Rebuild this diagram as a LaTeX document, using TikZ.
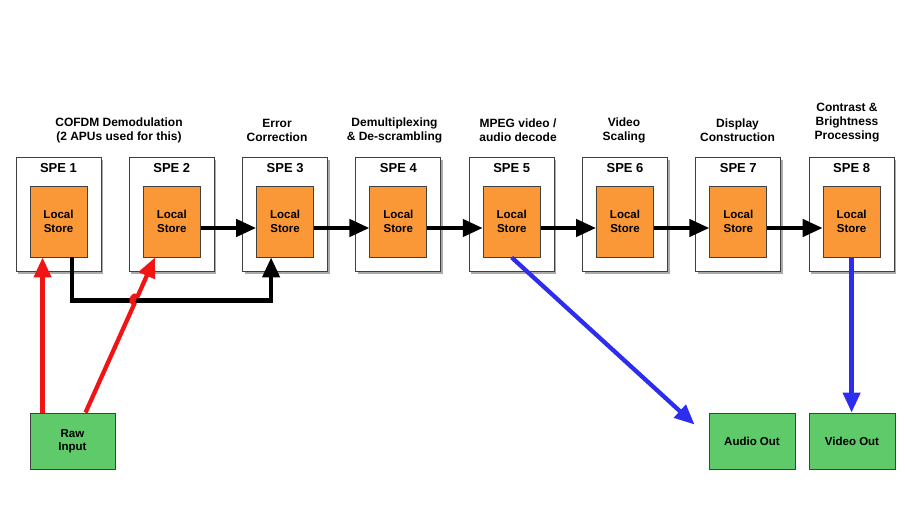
\documentclass[tikz,border=0pt]{standalone}
\usepackage{fontspec}
\setmainfont{Liberation Sans}
\usetikzlibrary{arrows.meta,shadows,calc}
\definecolor{lsorange}{RGB}{250,152,56}
\definecolor{iogreen}{RGB}{95,202,106}
\definecolor{redarrow}{RGB}{240,20,20}
\definecolor{bluearrow}{RGB}{45,45,240}
\begin{document}
\begin{tikzpicture}[x=1pt,y=-1pt,
  spebox/.style={draw=black!75, line width=0.9pt, fill=white, minimum width=85pt, minimum height=114pt, inner sep=0pt,
    drop shadow={shadow xshift=2pt, shadow yshift=-3.5pt, fill=black!60, opacity=0.55}},
  lsbox/.style={draw=black!75, line width=0.9pt, fill=lsorange, minimum width=57pt, minimum height=71pt, inner sep=0pt,
    align=center, font=\fontsize{11.5}{13.3}\selectfont\bfseries},
  iobox/.style={draw=black!75, line width=0.9pt, fill=iogreen, minimum width=86pt, minimum height=56pt, inner sep=0pt,
    align=center, font=\fontsize{11.5}{13.3}\selectfont\bfseries},
  spetitle/.style={font=\fontsize{13}{15}\selectfont\bfseries, inner sep=0pt},
  stage/.style={align=center, font=\fontsize{12}{14}\selectfont\bfseries, inner sep=0pt},
  flow/.style={line width=4.3pt, -{Triangle[length=20pt,width=17pt]}},
  redflow/.style={flow, draw=redarrow, fill=redarrow},
  blueflow/.style={flow, draw=bluearrow, fill=bluearrow},
]
\useasboundingbox (0,0) rectangle (905,518);

% stage labels
\node[stage] (labA) at (119,130) {COFDM Demodulation\\(2 APUs used for this)};
\node[stage] (lab3) at (277,130) {Error\\Correction};
\node[stage] (lab4) at (394.5,130) {Demultiplexing\\\& De-scrambling};
\node[stage] (lab5) at (518,130) {MPEG video /\\audio decode};
\node[stage] (lab6) at (624,130) {Video\\Scaling};
\node[stage] (lab7) at (737.5,130) {Display\\Construction};
\node[stage] (lab8) at (847,123) {Contrast \&\\Brightness\\Processing};

% SPE boxes
\foreach \i in {1,...,8} {
  \node[spebox] (spe\i) at ({58.5+(\i-1)*113.3},214) {};
  \node[spetitle] (t\i) at ({58.5+(\i-1)*113.3},168) {SPE \i};
  \node[lsbox] (ls\i) at ({58.5+(\i-1)*113.3},221.5) {Local\\Store};
}

% I/O boxes
\node[iobox, minimum width=85pt] (raw) at (72.5,441) {Raw\\Input};
\node[iobox] (audio) at (752,441) {Audio Out};
\node[iobox] (video) at (852,441) {Video Out};

% black chain
\foreach \i/\j in {2/3,3/4,4/5,5/6,6/7,7/8} {
  \draw[flow] ([yshift=-6.5pt]ls\i.east) -- ([yshift=-6.5pt]ls\j.west);
}
\draw[flow, line join=miter] ([xshift=13.5pt]ls1.south) -- ++(0,43) -| ([xshift=-14pt]ls3.south);

% red inputs
\coordinate (r1) at ([xshift=13pt]raw.north west);
\draw[redflow] (r1) -- (r1 |- ls1.south);
\coordinate (r2) at ([xshift=56pt]raw.north west);
\coordinate (hopA) at (134.2,304.1);
\coordinate (hopB) at (137.8,295.9);
\draw[redflow] (r2) -- (hopA) .. controls (128.7,301.7) and (132.3,293.5) .. (hopB) -- ([xshift=-16.8pt]ls2.south);

% blue outputs
\draw[blueflow] (ls5.south) -- ($(audio.north west)+(-14,12)$);
\draw[blueflow] (ls8.south) -- (ls8.south |- video.north);
\end{tikzpicture}
\end{document}
